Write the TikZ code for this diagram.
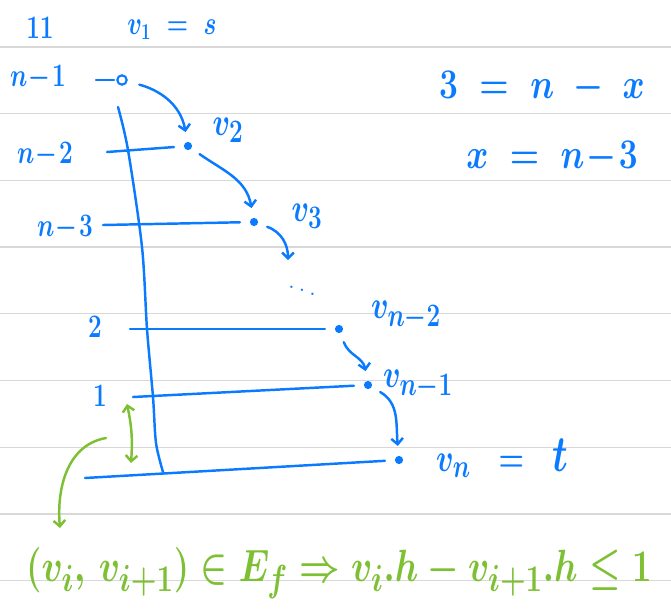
\documentclass[tikz,border=0pt]{standalone}
\usepackage{amsmath,amssymb}
\usepackage{graphicx}
\usepackage{xcolor}
\usepackage{tikz}
\usetikzlibrary{arrows.meta,positioning}
\definecolor{inkblue}{RGB}{10,122,255}
\definecolor{inkgreen}{RGB}{125,192,52}
\definecolor{ruled}{RGB}{216,216,216}
\newcommand{\hand}[1]{\scalebox{1}[1.35]{\boldmath$#1$}}

\begin{document}
\begin{tikzpicture}[x=0.03cm,y=-0.03cm,
    ruling/.style={draw=ruled,line width=1.1pt},
    pen/.style={draw=inkblue,line width=2.1pt,line cap=round},
    hop/.style={pen,-{Straight Barb[length=5pt,width=10pt]}},
    gpen/.style={draw=inkgreen,line width=2.1pt,line cap=round},
    dot/.style={circle,fill=inkblue,inner sep=0pt,minimum size=7pt,outer sep=0.3cm},
    lbl/.style={text=inkblue,font=\huge},
    vlbl/.style={text=inkblue,font=\Huge},
    eq/.style={text=inkblue,font=\Huge}]
   \useasboundingbox (0,0) rectangle (671,608);
   \clip (0,0) rectangle (671,608);
   \foreach \k in {0,...,8}
     \draw[ruling] (0,{47+66.7*\k}) -- (671,{47+66.7*\k});
   \node[lbl]  (hd)  at (40,28)   {\hand{11}};
   \node[lbl]  (src) at (172,30)  {\hand{v_1 \;=\; s}};
   \node[lbl]  (r1)  at (38,78)   {\hand{n\!-\!1}};
   \node[lbl]  (r2)  at (45,155)  {\hand{n\!-\!2}};
   \node[lbl]  (r3)  at (65,228)  {\hand{n\!-\!3}};
   \node[lbl]  (r4)  at (95,327)  {\hand{2}};
   \node[lbl]  (r5)  at (100,396) {\hand{1}};
   \node[circle,draw=inkblue,line width=1.8pt,inner sep=0pt,minimum size=8pt,outer sep=0.1cm] (v1) at (122,80) {};
   \node[dot]  (v2)  at (188,146) {};
   \node[dot]  (v3)  at (254,222) {};
   \node[dot]  (v4)  at (339,329) {};
   \node[dot]  (v5)  at (368,385) {};
   \node[dot]  (v6)  at (399,460) {};
   \node[vlbl] (l2)  at (228,130) {\hand{v_2}};
   \node[vlbl] (l3)  at (307,216) {\hand{v_3}};
   \node[vlbl] (l4)  at (406,316) {\hand{v_{n-2}}};
   \node[vlbl] (l5)  at (418,385) {\hand{v_{n-1}}};
   \node[vlbl] (l6)  at (502,458) {\hand{v_n \;\;=\;\; \scalebox{1.3}{$t$}}};
   \node[text=inkblue,font=\Huge] (dd) at (302,287) {$\ddots$};
   \node[eq]   (e1)  at (542,88)  {\scalebox{1.15}[1.45]{\boldmath$3 \;=\; n \;-\; x$}};
   \node[eq]   (e2)  at (552,158) {\scalebox{1.15}[1.45]{\boldmath$x \;=\; n\!-\!3$}};
   \coordinate (d1) at (96,80);
   \coordinate (t2) at (107,152);
   \coordinate (t3) at (103,225);
   \coordinate (t4) at (130,329);
   \coordinate (t5) at (133,397);
   \coordinate (t6) at (85,478);
   \coordinate (gap) at (288,260);
   \draw[pen] (d1) -- (v1);
   \draw[pen] (t2) -- (v2);
   \draw[pen] (t3) -- (v3);
   \draw[pen] (t4) -- (v4);
   \draw[pen] (t5) -- (v5);
   \draw[pen] (t6) -- (v6);
   \draw[pen] plot[smooth] coordinates {(118,107) (128,150) (142,247) (147,329) (153,397) (156,443) (163,472)};
   \draw[hop,shorten <=0.3cm] (v1) to[out=-15,in=100] (v2);
   \draw[hop] (v2) to[out=-35,in=100] (v3);
   \draw[hop] (v3) to[out=-20,in=90] (gap);
   \draw[hop] (v4) to[out=-70,in=100] (v5);
   \draw[hop] (v5) to[out=-30,in=95] (v6);
   \node[anchor=base west,text=inkgreen,font=\Huge] (rel) at (22,581)
     {\scalebox{1.21}[1.55]{\boldmath$(v_i,\, v_{i+1}) \in E_f \Rightarrow v_i.h - v_{i+1}.h \leq 1$}};
   \coordinate (gt) at (127,404);
   \coordinate (gb) at (131,463);
   \coordinate (cs) at (106,438);
   \coordinate (ce) at (60,528);
   \draw[gpen,{Straight Barb[length=5pt,width=10pt]}-{Straight Barb[length=5pt,width=10pt]}] (gt) to[bend left=8] (gb);
   \draw[gpen,-{Straight Barb[length=5pt,width=10pt]}] (cs) to[out=190,in=95] (ce);
\end{tikzpicture}
\end{document}
